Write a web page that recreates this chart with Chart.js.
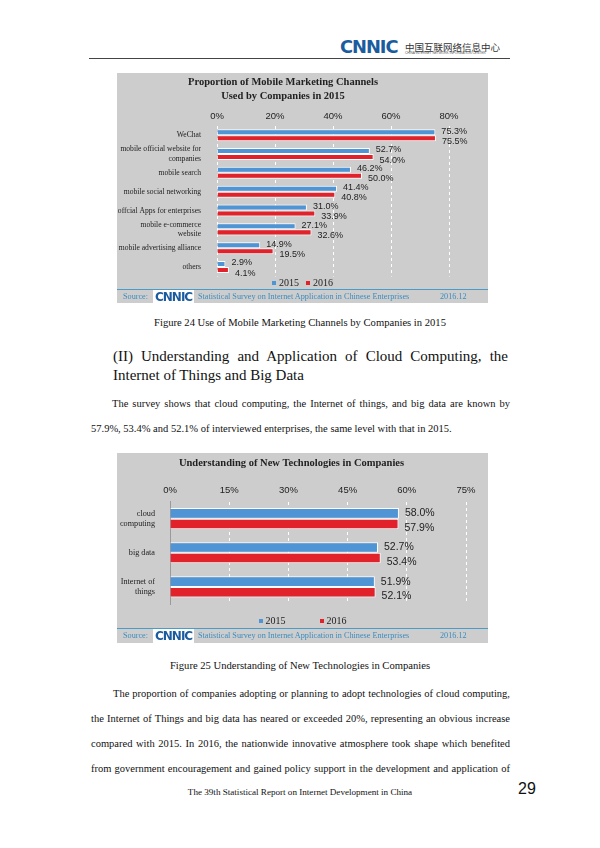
<!DOCTYPE html>
<html>
<head>
<meta charset="utf-8">
<script src="https://cdn.jsdelivr.net/npm/chart.js@4.4.0/dist/chart.umd.min.js"></script>
<style>
  body { margin: 0; background: #fff; }
  #page { position: relative; width: 600px; height: 848px; overflow: hidden; font-family: "Liberation Serif", serif; color: #111; }
  .abs { position: absolute; white-space: nowrap; }
  .logo { font-family: "DejaVu Sans", sans-serif; font-weight: bold; color: #1b5c9e; letter-spacing: -1px; }
  .box { position: absolute; left: 117px; width: 371px; background: #cdcdcd; }
  .src { position: absolute; left: 0; width: 371px; border-top: 1px solid #4a9cc8; font-size: 8.2px; color: #3a8cbf; }
  .line { position: absolute; left: 91px; width: 419px; font-size: 10.5px; text-align: justify; text-align-last: justify; white-space: nowrap; }
  .last { text-align-last: left; }
  .legend { position: absolute; left: 0; width: 371px; display: flex; justify-content: center; font-size: 10px; color: #222; line-height: 12px; }
  .legend span.item { display: flex; align-items: center; }
  .legend i { display: inline-block; width: 4px; height: 4px; margin-right: 3px; }
</style>
</head>
<body>
<div id="page">
  <!-- header -->
  <div class="abs logo" style="left:340px; top:37px; font-size:17px; transform:scaleX(1.05); transform-origin:left;">CNNIC</div>
  <div class="abs" style="left:405px; top:40px; font-size:9.5px; font-family:'Noto Sans CJK SC'; color:#333;">中国互联网络信息中心</div>
  <div class="abs" style="left:405px; top:51px; font-size:3.2px; font-family:'Liberation Sans'; color:#555;">CHINA INTERNET NETWORK INFORMATION CENTER</div>
  <div class="abs" style="left:89px; top:58px; width:421px; height:1px; background:#444;"></div>

  <!-- chart 1 -->
  <div class="box" style="top:73px; height:230px;">
    <div style="position:absolute; left:0; top:0; width:371px; height:216px;"><canvas id="chart1"></canvas></div>
    <div class="legend" id="legend1" style="top:204px; gap:7px;"></div>
    <div class="src" style="top:216px; height:14px;">
      <span class="abs" style="left:6px; top:2px;">Source:</span>
      <span class="abs logo" style="left:36px; top:0px; font-size:12px; background:#fff; padding:0 2px;">CNNIC</span>
      <span class="abs" style="left:81px; top:2px;">Statistical Survey on Internet Application in Chinese Enterprises</span>
      <span class="abs" style="left:323px; top:2px;">2016.12</span>
    </div>
  </div>
  <div class="abs" style="left:0; width:600px; top:317px; text-align:center; font-size:10.6px;">Figure 24 Use of Mobile Marketing Channels by Companies in 2015</div>

  <!-- heading -->
  <div class="line" style="left:113px; width:395px; top:348px; font-size:15px;">(II) Understanding and Application of Cloud Computing, the</div>
  <div class="line last" style="left:113px; width:395px; top:367px; font-size:15px;">Internet of Things and Big Data</div>

  <!-- paragraph 1 -->
  <div class="line" style="left:112px; width:398px; top:398px;">The survey shows that cloud computing, the Internet of things, and big data are known by</div>
  <div class="line last" style="top:423px;">57.9%, 53.4% and 52.1% of interviewed enterprises, the same level with that in 2015.</div>

  <!-- chart 2 -->
  <div class="box" style="top:453px; height:190px;">
    <div style="position:absolute; left:0; top:0; width:371px; height:175px;"><canvas id="chart2"></canvas></div>
    <div class="legend" id="legend2" style="top:162px; gap:34px;"></div>
    <div class="src" style="top:175px; height:15px;">
      <span class="abs" style="left:6px; top:2px;">Source:</span>
      <span class="abs logo" style="left:36px; top:0px; font-size:12px; background:#fff; padding:0 2px;">CNNIC</span>
      <span class="abs" style="left:81px; top:2px;">Statistical Survey on Internet Application in Chinese Enterprises</span>
      <span class="abs" style="left:323px; top:2px;">2016.12</span>
    </div>
  </div>
  <div class="abs" style="left:0; width:600px; top:660px; text-align:center; font-size:10.6px;">Figure 25 Understanding of New Technologies in Companies</div>

  <!-- paragraph 2 -->
  <div class="line" style="left:113px; width:397px; top:688px;">The proportion of companies adopting or planning to adopt technologies of cloud computing,</div>
  <div class="line" style="top:713px;">the Internet of Things and big data has neared or exceeded 20%, representing an obvious increase</div>
  <div class="line" style="top:738px;">compared with 2015. In 2016, the nationwide innovative atmosphere took shape which benefited</div>
  <div class="line" style="top:763px;">from government encouragement and gained policy support in the development and application of</div>

  <!-- footer -->
  <div class="abs" style="left:0; width:600px; top:787px; text-align:center; font-size:9.1px;">The 39th Statistical Report on Internet Development in China</div>
  <div class="abs" style="left:518px; top:780px; font-size:16px; font-family:'Liberation Sans';">29</div>
</div>

<script>
// chart 1 data
var channelLabels = [
    "WeChat",
    ["mobile official website for", "companies"],
    "mobile search",
    "mobile social networking",
    "offcial Apps for enterprises",
    ["mobile e-commerce", "website"],
    "mobile advertising alliance",
    "others"
];
var channels2015 = [75.3, 52.7, 46.2, 41.4, 31.0, 27.1, 14.9, 2.9];
var channels2016 = [75.5, 54.0, 50.0, 40.8, 33.9, 32.6, 19.5, 4.1];
var channelTicks = [0, 20, 40, 60, 80];

// chart 2 data
var techLabels = [["cloud", "computing"], "big data", ["Internet of", "things"]];
var tech2015 = [58.0, 52.7, 51.9];
var tech2016 = [57.9, 53.4, 52.1];
var techTicks = [0, 15, 30, 45, 60, 75];

var blue = '#4f95d6';
var red = '#e2222b';

// draws the % value next to each bar
function valueLabels(offsets, size) {
    return {
        id: 'valueLabels',
        afterDatasetsDraw: function(chart) {
            var c = chart.ctx;
            c.save();
            c.font = size + 'px "Liberation Sans"';
            c.fillStyle = '#222';
            c.textBaseline = 'middle';
            chart.data.datasets.forEach(function(ds, i) {
                chart.getDatasetMeta(i).data.forEach(function(bar, j) {
                    c.fillText(ds.data[j].toFixed(1) + '%', bar.x + 6, bar.y + offsets[i]);
                });
            });
            c.restore();
        }
    };
}

// html legend under the plot
function buildLegend(chart, id) {
    var box = document.getElementById(id);
    chart.data.datasets.forEach(function(ds) {
        var item = document.createElement('span');
        item.className = 'item';
        item.innerHTML = '<i style="background:' + ds.backgroundColor + '"></i>' + ds.label;
        box.appendChild(item);
    });
}

function makeChart(id, labels, d15, d16, ticks, opts) {
    return new Chart(document.getElementById(id), {
        type: 'bar',
        data: {
            labels: labels,
            datasets: [
                { label: '2015', data: d15, backgroundColor: blue, borderColor: '#fff', borderWidth: 1 },
                { label: '2016', data: d16, backgroundColor: red, borderColor: '#fff', borderWidth: 1 }
            ]
        },
        options: {
            indexAxis: 'y',
            responsive: true,
            maintainAspectRatio: false,
            animation: false,
            categoryPercentage: opts.catPct,
            barPercentage: 1,
            layout: { padding: opts.padding },
            scales: {
                x: {
                    position: 'top',
                    min: ticks[0],
                    max: ticks[ticks.length - 1],
                    afterBuildTicks: function(scale) {
                        scale.ticks = ticks.map(function(v) { return { value: v }; });
                    },
                    ticks: {
                        callback: function(v) { return v + '%'; },
                        font: { family: 'Liberation Sans', size: 9.5 },
                        color: '#222',
                        padding: opts.tickPad
                    },
                    grid: { color: '#fff', lineWidth: 1, drawTicks: false },
                    border: { display: false, dash: [3, 3] }
                },
                y: {
                    afterFit: function(scale) { scale.width = opts.yWidth; },
                    ticks: {
                        font: { family: 'Liberation Serif', size: opts.yFont },
                        color: '#222',
                        padding: opts.yPad,
                        autoSkip: false
                    },
                    grid: { display: false },
                    border: { display: opts.yBorder, color: '#9a9a9a' }
                }
            },
            plugins: {
                title: {
                    display: true,
                    text: opts.title,
                    font: { family: 'Liberation Serif', size: 10.5, weight: 'bold', lineHeight: 1.35 },
                    color: '#222',
                    padding: opts.titlePad
                },
                legend: { display: false },
                tooltip: { enabled: false }
            }
        },
        plugins: [valueLabels(opts.offsets, opts.labelSize)]
    });
}

var chart1 = makeChart('chart1', channelLabels, channels2015, channels2016, channelTicks, {
    title: ['Proportion of Mobile Marketing Channels', 'Used by Companies in 2015'],
    titlePad: { top: 2, bottom: 3 },
    tickPad: 4,
    padding: { left: 0, right: 39, top: 0, bottom: 12 },
    yWidth: 100,
    yPad: 8,
    yFont: 7.6,
    yBorder: false,
    catPct: 0.64,
    labelSize: 9,
    offsets: [-1, 3]
});
buildLegend(chart1, 'legend1');

var chart2 = makeChart('chart2', techLabels, tech2015, tech2016, techTicks, {
    title: 'Understanding of New Technologies in Companies',
    titlePad: { top: 3, bottom: 8 },
    tickPad: 6,
    padding: { left: 0, right: 22, top: 0, bottom: 24 },
    yWidth: 53,
    yPad: 7,
    yFont: 8.2,
    yBorder: true,
    catPct: 0.62,
    labelSize: 10.5,
    offsets: [0, 4]
});
buildLegend(chart2, 'legend2');
</script>
</body>
</html>
